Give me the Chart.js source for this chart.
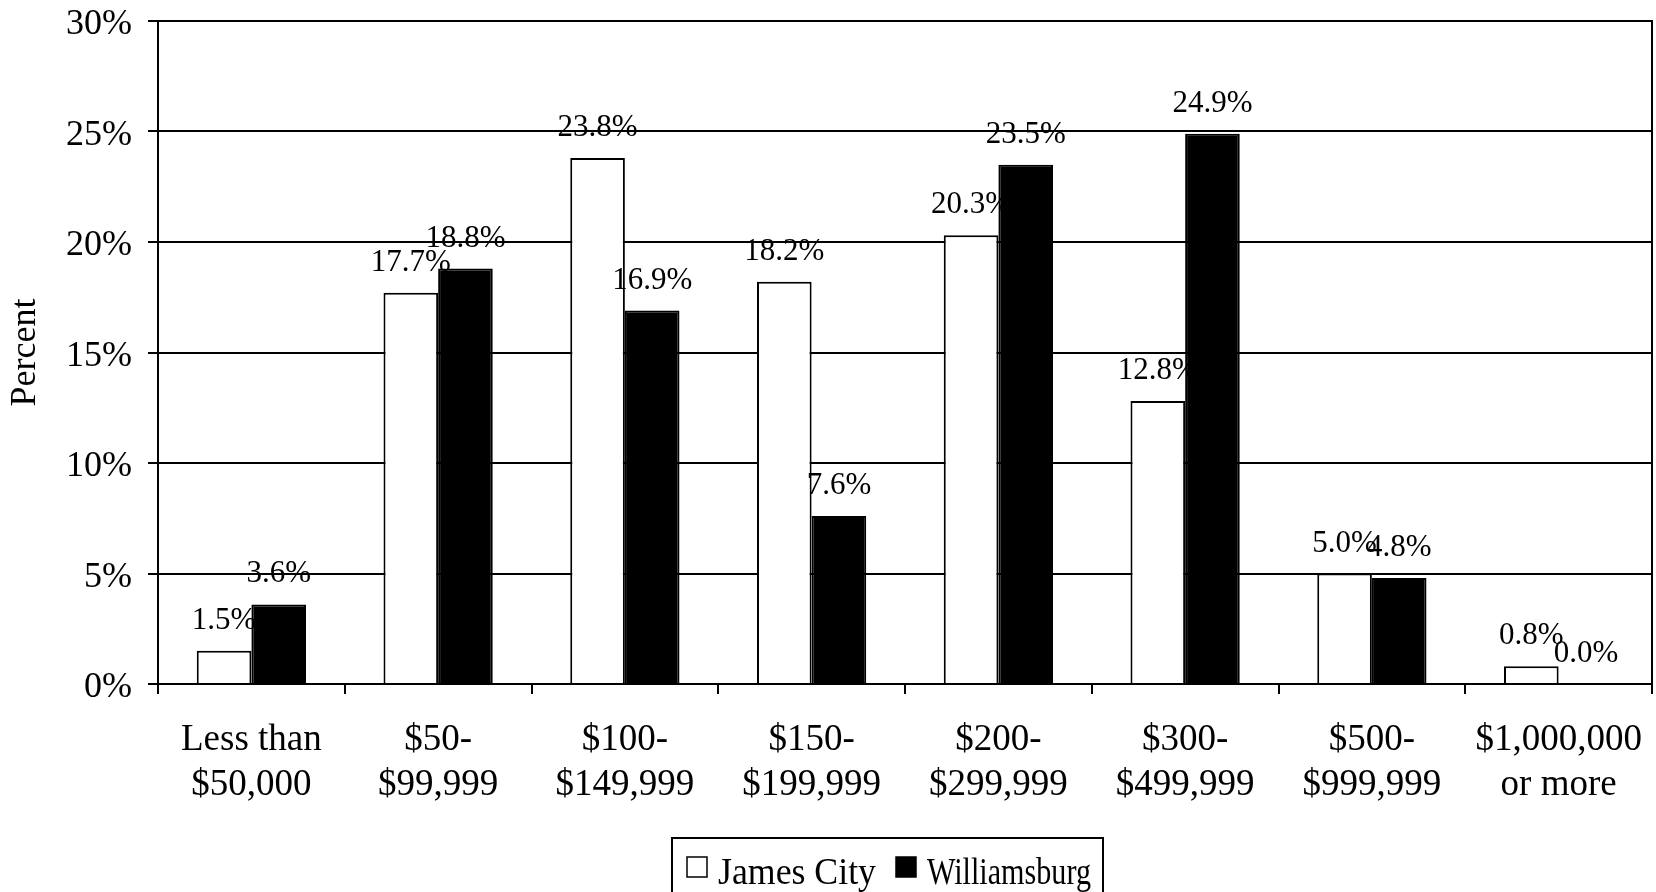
<!DOCTYPE html>
<html lang="en">
<head>
    <meta charset="UTF-8">
    <title>Home Value Distribution</title>
    <script src="https://cdn.jsdelivr.net/npm/chart.js"></script>
    <style>
        html, body {
            margin: 0;
            padding: 0;
            background: #fff;
        }
        .chart-box {
            width: 1656px;
            height: 892px;
        }
    </style>
</head>
<body>

<div class="chart-box">
    <canvas id="valueChart"></canvas>
</div>

<script>
    const categories = [
        ['Less than', '$50,000'],
        ['$50-', '$99,999'],
        ['$100-', '$149,999'],
        ['$150-', '$199,999'],
        ['$200-', '$299,999'],
        ['$300-', '$499,999'],
        ['$500-', '$999,999'],
        ['$1,000,000', 'or more']
    ];
    const seriesNames = ['James City', 'Williamsburg'];
    const jamesCity = [1.5, 17.7, 23.8, 18.2, 20.3, 12.8, 5.0, 0.8];
    const williamsburg = [3.6, 18.8, 16.9, 7.6, 23.5, 24.9, 4.8, 0.0];
    const yTicks = [0, 5, 10, 15, 20, 25, 30];

    const serif = "'Liberation Serif', 'Times New Roman', serif";
    Chart.defaults.font.family = serif;
    Chart.defaults.color = '#000';

    // value labels above each bar
    const barLabels = {
        id: 'barLabels',
        afterDatasetsDraw(chart) {
            const ctx = chart.ctx;
            ctx.save();
            ctx.font = '31px ' + serif;
            ctx.fillStyle = '#000';
            ctx.textAlign = 'center';
            ctx.textBaseline = 'alphabetic';
            chart.data.datasets.forEach((ds, i) => {
                chart.getDatasetMeta(i).data.forEach((bar, j) => {
                    ctx.fillText(ds.data[j].toFixed(1) + '%', bar.x, bar.y - 22);
                });
            });
            ctx.restore();
        }
    };

    // framed legend under the x axis, cut by the bottom edge
    const textWidths = [158, 164];
    const boxLegend = {
        id: 'boxLegend',
        afterDraw(chart) {
            const ctx = chart.ctx;
            const frameLeft = 672, frameTop = 838;
            const baseline = 884, sq = 20;
            ctx.save();
            ctx.font = '37px ' + serif;
            ctx.textBaseline = 'alphabetic';
            ctx.textAlign = 'left';

            let x = frameLeft + 15;
            chart.data.datasets.forEach((ds, i) => {
                ctx.fillStyle = ds.backgroundColor;
                ctx.fillRect(x, baseline - 27, sq, sq);
                ctx.strokeStyle = '#000';
                ctx.lineWidth = 1.5;
                ctx.strokeRect(x, baseline - 27, sq, sq);
                x += sq + 11;
                const w = Math.min(ctx.measureText(ds.label).width, textWidths[i]);
                ctx.fillStyle = '#000';
                ctx.fillText(ds.label, x, baseline, w);
                x += w + 20;
            });
            const frameRight = x - 20 + 12;

            ctx.strokeStyle = '#000';
            ctx.lineWidth = 2;
            ctx.strokeRect(frameLeft, frameTop, frameRight - frameLeft, chart.height + 10 - frameTop);
            ctx.restore();
        }
    };

    const ctx = document.getElementById('valueChart').getContext('2d');
    new Chart(ctx, {
        type: 'bar',
        data: {
            labels: categories,
            datasets: [{
                label: seriesNames[0],
                data: jamesCity,
                backgroundColor: '#fff',
                borderColor: '#000',
                borderWidth: 2,
                borderSkipped: 'bottom'
            }, {
                label: seriesNames[1],
                data: williamsburg,
                backgroundColor: '#000',
                borderColor: '#000',
                borderWidth: 2,
                borderSkipped: 'bottom'
            }]
        },
        options: {
            responsive: true,
            maintainAspectRatio: false,
            animation: false,
            datasets: {
                bar: {
                    categoryPercentage: 0.585,
                    barPercentage: 1.0
                }
            },
            layout: {
                padding: { left: 0, right: 4, top: 0, bottom: 0 }
            },
            plugins: {
                tooltip: { enabled: false },
                legend: { display: false }
            },
            scales: {
                x: {
                    grid: {
                        offset: true,
                        drawOnChartArea: false,
                        drawTicks: true,
                        tickLength: 10,
                        color: '#000',
                        lineWidth: 2
                    },
                    border: { color: '#000', width: 2 },
                    ticks: {
                        font: { size: 37, lineHeight: 1.22 },
                        padding: 24,
                        maxRotation: 0,
                        autoSkip: false
                    },
                    afterFit(scale) {
                        scale.height = 208;
                        scale.paddingLeft = 0;
                        scale.paddingRight = 0;
                    }
                },
                y: {
                    min: 0,
                    max: 30,
                    afterBuildTicks(scale) {
                        scale.ticks = yTicks.map(v => ({ value: v }));
                    },
                    grid: {
                        color: '#000',
                        lineWidth: 2,
                        tickLength: 10
                    },
                    border: { color: '#000', width: 2 },
                    ticks: {
                        font: { size: 36 },
                        padding: 16,
                        labelOffset: 4,
                        callback: v => v + '%'
                    },
                    title: {
                        display: true,
                        text: 'Percent',
                        font: { size: 36 },
                        padding: { top: 4, bottom: 0 }
                    },
                    afterFit(scale) {
                        scale.width = 158;
                        scale.paddingTop = 21;
                        scale.paddingBottom = 0;
                    }
                },
                yRight: {
                    position: 'right',
                    min: 0,
                    max: 30,
                    grid: { display: false },
                    ticks: { display: false },
                    border: { color: '#000', width: 2 },
                    afterFit(scale) {
                        scale.width = 0;
                        scale.paddingTop = 0;
                        scale.paddingBottom = 0;
                    }
                }
            }
        },
        plugins: [barLabels, boxLegend]
    });
</script>

</body>
</html>
